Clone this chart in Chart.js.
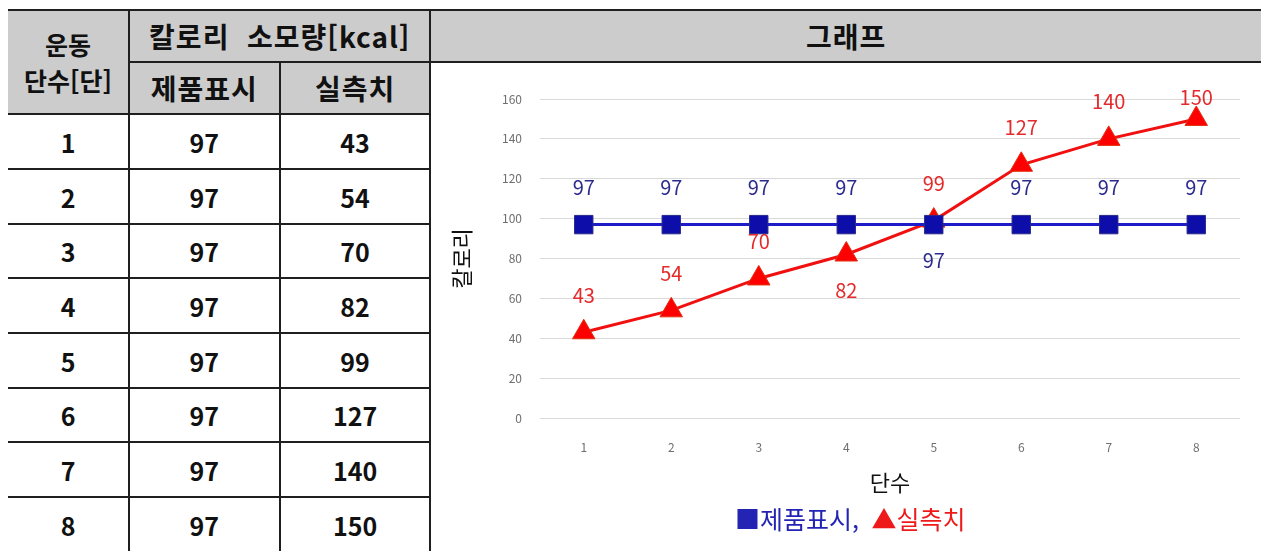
<!DOCTYPE html>
<html lang="ko">
<head>
<meta charset="utf-8">
<script src="https://cdn.jsdelivr.net/npm/chart.js@4"></script>
<style>
  body { margin: 0; background: #fff; width: 1261px; height: 551px; overflow: hidden; position: relative; }
  table {
    position: absolute; left: 8px; top: 9px;
    border-collapse: collapse; table-layout: fixed;
    font-family: "Noto Sans CJK KR", sans-serif; font-weight: 700; color: #111;
  }
  td, th { border: 2px solid #1f1f1f; text-align: center; padding: 0; }
  th { background: #cccccc; font-size: 28px; letter-spacing: 1px; line-height: 1.1; }
  th.dan { font-size: 25px; letter-spacing: 0; line-height: 1.45; }
  td { font-size: 25px; }
  tr > :first-child { border-left: none; }
  .last td { border-bottom: none; }
  #wrap { position: absolute; left: 433px; top: 62px; width: 828px; height: 489px; }
</style>
</head>
<body>
<table>
  <colgroup><col style="width:122px"><col style="width:152px"><col style="width:152px"><col style="width:840px"></colgroup>
  <tr style="height:52px"><th class="dan" rowspan="2">운동<br>단수[단]</th><th colspan="2">칼로리&nbsp; 소모량[kcal]</th><th style="border-right:none">그래프</th></tr>
  <tr style="height:52px"><th>제품표시</th><th>실측치</th><td rowspan="9" style="border-right:none;border-bottom:none"></td></tr>
  <tbody id="rows"></tbody>
</table>
<div id="wrap"><canvas id="grafico"></canvas></div>
<script>
const danSu = ["1", "2", "3", "4", "5", "6", "7", "8"];
const jepumPyosi = [97, 97, 97, 97, 97, 97, 97, 97];
const silcheukchi = [43, 54, 70, 82, 99, 127, 140, 150];
const yTicks = [0, 20, 40, 60, 80, 100, 120, 140, 160];

const rowHeights = [55, 55, 54, 55, 55, 54, 55, 55];

const tbody = document.getElementById("rows");
danSu.forEach((d, i) => {
  const tr = document.createElement("tr");
  tr.style.height = rowHeights[i] + "px";
  if (i === danSu.length - 1) tr.className = "last";
  tr.innerHTML = `<td>${d}</td><td>${jepumPyosi[i]}</td><td>${silcheukchi[i]}</td>`;
  tbody.appendChild(tr);
});

// 값 라벨 그리기
const valueLabels = {
  id: "valueLabels",
  afterDatasetsDraw(chart) {
    const ctx = chart.ctx;
    const top = chart.chartArea.top;
    ctx.save();
    ctx.font = '20px "Noto Sans CJK KR", sans-serif';
    ctx.textAlign = "center";
    ctx.textBaseline = "middle";
    chart.data.datasets.forEach((ds, di) => {
      const meta = chart.getDatasetMeta(di);
      ctx.fillStyle = ds.labelColor;
      meta.data.forEach((pt, i) => {
        const below = ds.labelBelow.includes(i);
        let y = below ? pt.y + 36 : pt.y - 37;
        if (!below) y = Math.max(y, top - 2);
        ctx.fillText(String(ds.data[i]), pt.x, y);
      });
    });
    ctx.restore();
  },
};

const chart = new Chart(document.getElementById("grafico"), {
  type: "line",
  data: {
    labels: danSu,
    datasets: [
      {
        label: "■제품표시,",
        data: jepumPyosi,
        borderColor: "#1c1cc8",
        backgroundColor: "#0d0daa",
        pointBorderColor: "#2a2a88",
        borderWidth: 3,
        pointStyle: "rect",
        pointRadius: 13,
        pointBorderWidth: 1,
        labelColor: "#2c2c8e",
        legendColor: "#2424b4",
        labelBelow: [4],
      },
      {
        label: "▲실측치",
        data: silcheukchi,
        borderColor: "#f01010",
        backgroundColor: "#ff0000",
        pointBorderColor: "#e03010",
        borderWidth: 3,
        pointStyle: "triangle",
        pointRadius: 13,
        pointBorderWidth: 1,
        labelColor: "#e42a2a",
        legendColor: "#ee1a1a",
        labelBelow: [3],
      },
    ],
  },
  options: {
    responsive: true,
    maintainAspectRatio: false,
    animation: false,
    layout: { padding: { left: 15, right: 21, top: 37, bottom: 9 } },
    scales: {
      x: {
        offset: true,
        grid: { display: false, drawTicks: false },
        border: { display: false },
        ticks: {
          padding: 22,
          color: "#6f6f6f",
          font: { size: 12, family: '"Noto Sans CJK KR", sans-serif' },
        },
        title: {
          display: true,
          text: "단수",
          color: "#111",
          font: { size: 22, family: '"Noto Sans CJK KR", sans-serif' },
          padding: { top: 4, bottom: 11 },
        },
        afterFit: (s) => { s.height = 89; },
      },
      y: {
        min: 0,
        max: 160,
        grid: { color: "#d9d9d9", lineWidth: 1, drawTicks: false },
        border: { display: false },
        afterBuildTicks: (s) => { s.ticks = yTicks.map((v) => ({ value: v })); },
        ticks: {
          padding: 18,
          color: "#6f6f6f",
          font: { size: 12, family: '"Noto Sans CJK KR", sans-serif' },
        },
        title: {
          display: true,
          text: "칼로리",
          color: "#111",
          font: { size: 22, family: '"Noto Sans CJK KR", sans-serif' },
          padding: { top: 0, bottom: 0 },
        },
        afterFit: (s) => { s.width = 92; },
      },
    },
    plugins: {
      tooltip: { enabled: false },
      legend: {
        position: "bottom",
        labels: {
          boxWidth: 0,
          boxHeight: 0,
          padding: 0,
          font: { size: 25, family: '"Noto Sans CJK KR", sans-serif' },
          generateLabels: (c) =>
            c.data.datasets.map((ds, i) => ({
              text: ds.label,
              fillStyle: "rgba(0,0,0,0)",
              strokeStyle: "rgba(0,0,0,0)",
              lineWidth: 0,
              fontColor: ds.legendColor,
              datasetIndex: i,
            })),
        },
      },
    },
  },
  plugins: [valueLabels],
});
</script>
</body>
</html>
